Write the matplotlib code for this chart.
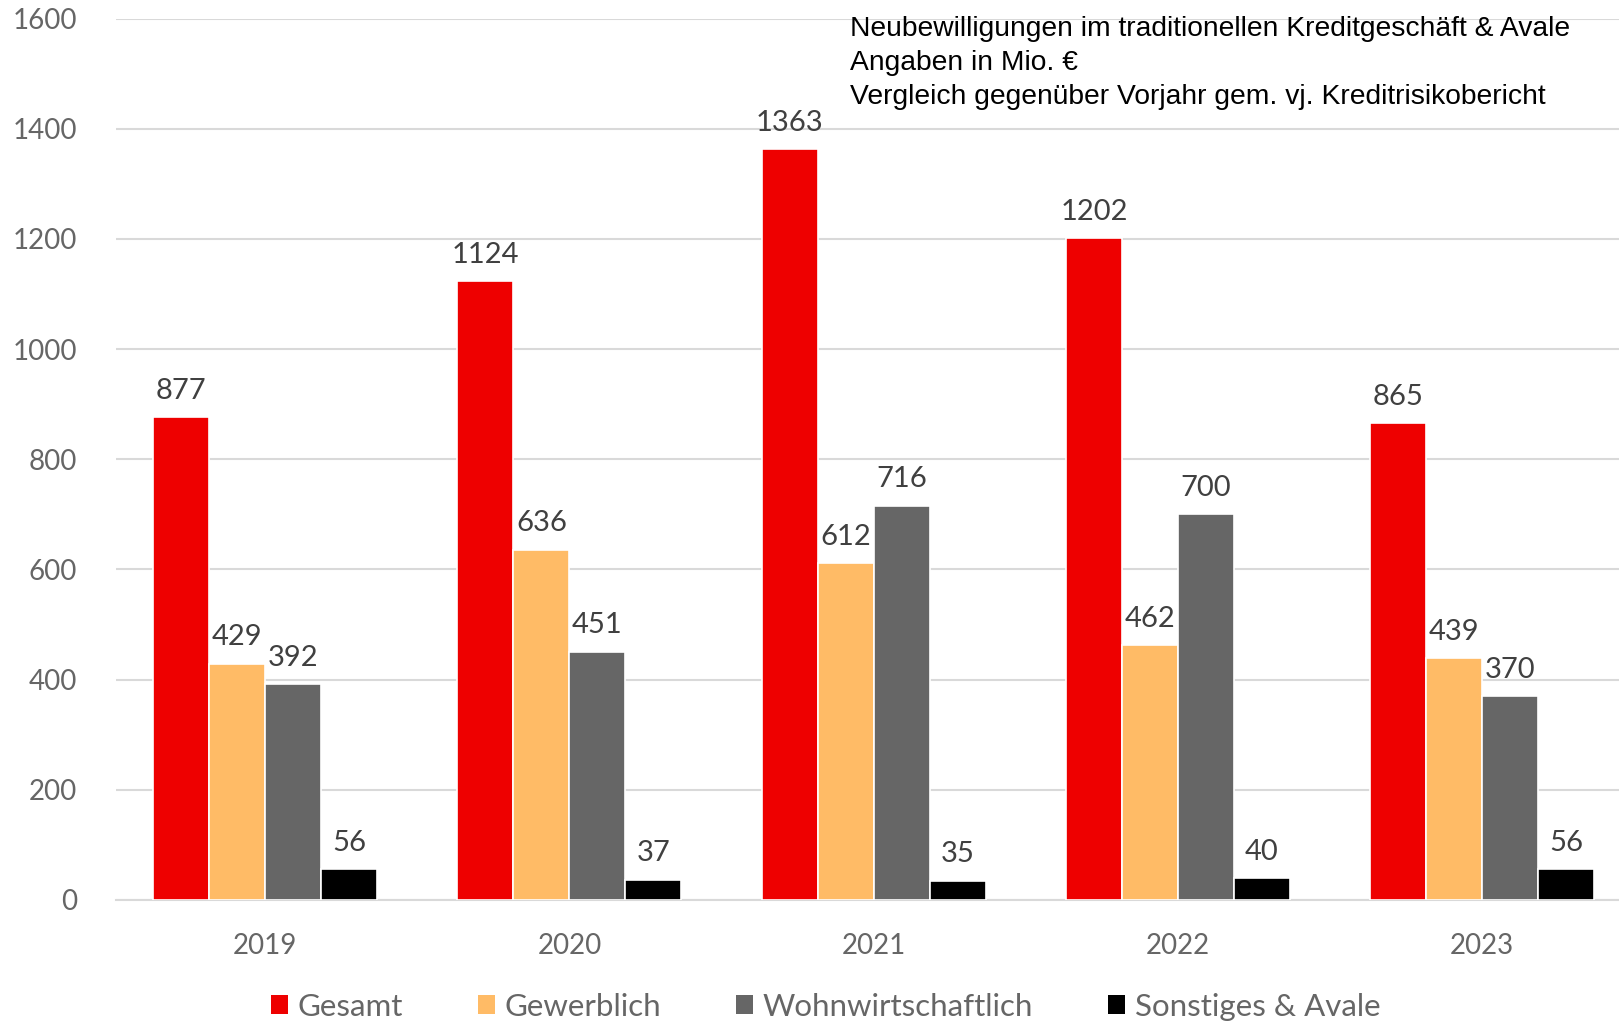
import matplotlib.pyplot as plt
import numpy as np
from matplotlib.patches import Patch

years = ['2019', '2020', '2021', '2022', '2023']
gesamt = [877, 1124, 1363, 1202, 865]
gewerblich = [429, 636, 612, 462, 439]
wohnwirtschaftlich = [392, 451, 716, 700, 370]
sonstiges = [56, 37, 35, 40, 56]

series_names = ['Gesamt', 'Gewerblich', 'Wohnwirtschaftlich', 'Sonstiges & Avale']
colors = ['#EE0000', '#FFBB66', '#666666', '#000000']

title_lines = ['Neubewilligungen im traditionellen Kreditgeschäft & Avale',
               'Angaben in Mio. €',
               'Vergleich gegenüber Vorjahr gem. vj. Kreditrisikobericht']

plt.rcParams['font.family'] = ['Lato', 'DejaVu Sans']

fig = plt.figure(figsize=(16.19, 10.25), dpi=100)
ax = fig.add_axes([0.0717, 0.122, 0.9283, 0.8598])

x = np.arange(len(years))
w = 0.184
all_series = [gesamt, gewerblich, wohnwirtschaftlich, sonstiges]
for i, (vals, c) in enumerate(zip(all_series, colors)):
    pos = x + (i - 1.5) * w
    ax.bar(pos, vals, width=w, color=c, edgecolor='white', linewidth=1.2, zorder=3)
    for p, v in zip(pos, vals):
        ax.text(p, v + 24, str(v), ha='center', va='bottom', fontsize=21, color='#404040')

ax.set_ylim(0, 1600)
ax.set_xlim(-0.49, 4.45)
ax.set_yticks(range(0, 1601, 200))
ax.set_xticks(x)
ax.set_xticklabels(years)
ax.tick_params(axis='both', length=0, labelsize=20, labelcolor='#666666')
ax.tick_params(axis='y', pad=28)
ax.tick_params(axis='x', pad=24)
ax.grid(axis='y', color='#D9D9D9', linewidth=1.5, zorder=0)
for s in ['top', 'right', 'left']:
    ax.spines[s].set_visible(False)
ax.spines['bottom'].set_color('#D9D9D9')
ax.spines['bottom'].set_linewidth(1.5)

fig.text(0.525, 0.984, '\n'.join(title_lines), ha='left', va='top', fontsize=20.3,
         family=['Liberation Sans Narrow', 'Liberation Sans'], linespacing=1.38, color='black')

handles = [Patch(facecolor=c, edgecolor='none') for c in colors]
leg = fig.legend(handles, series_names, loc='center', bbox_to_anchor=(0.51, 0.018),
                 ncol=4, frameon=False, fontsize=22.5, handlelength=0.55, handleheight=0.55,
                 handletextpad=0.3, columnspacing=2.4)
for t in leg.get_texts():
    t.set_color('#666666')

fig.savefig('out.png', dpi=100)
